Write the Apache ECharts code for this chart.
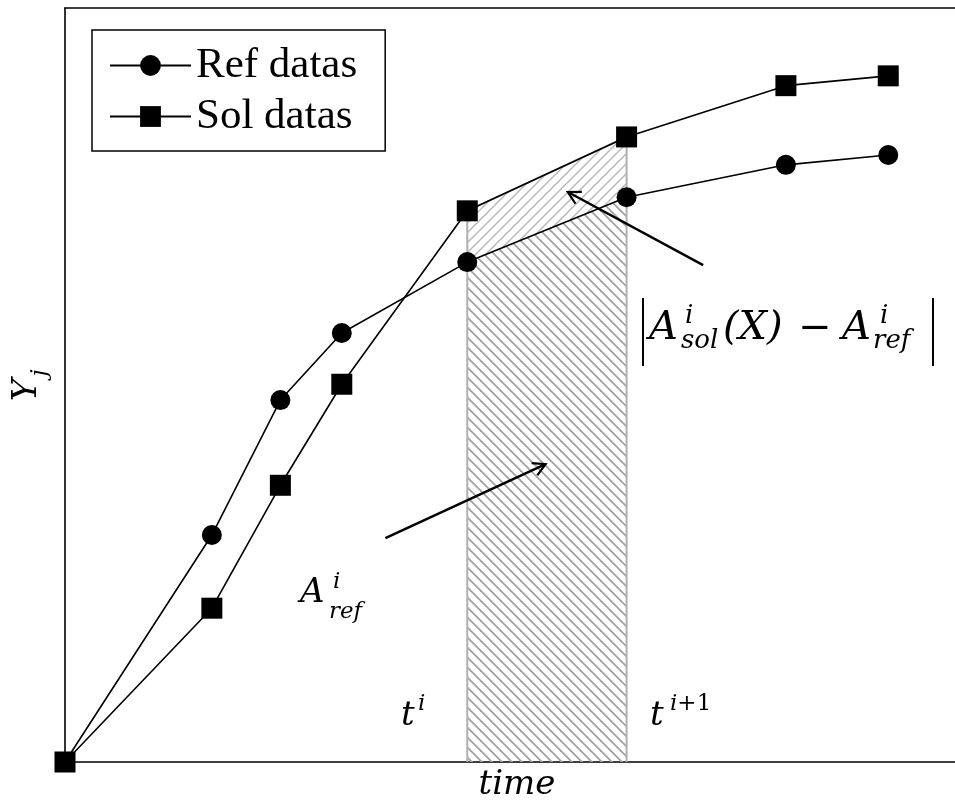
<!DOCTYPE html>
<html>
<head>
<meta charset="utf-8">
<script src="https://cdn.jsdelivr.net/npm/echarts@6/dist/echarts.min.js"></script>
<style>
html,body{margin:0;padding:0;background:#fff;}
#chart{width:955px;height:802px;}
</style>
</head>
<body>
<div id="chart"></div>
<script>
// ---- data ----
const timeValues = [0, 1.65, 2.42, 3.11, 4.52, 6.31, 8.10, 9.25];
const refValues  = [0, 3.01, 4.80, 5.69, 6.63, 7.49, 7.92, 8.05];
const solValues  = [0, 2.04, 3.67, 5.01, 7.31, 8.29, 8.97, 9.10];
const seriesNames = ['Ref datas', 'Sol datas'];
const intervalIndex = 4; // area between t^i and t^{i+1}
const arrowTails = [[7.17, 6.59], [3.60, 2.97]];
const arrowHeads = [[5.65, 7.56], [5.40, 3.95]];

function makeHatch(dir, color, width) {
  const s = 10;
  const c = document.createElement('canvas');
  c.width = s; c.height = s;
  const ctx = c.getContext('2d');
  ctx.strokeStyle = color;
  ctx.lineWidth = width;
  ctx.lineCap = 'square';
  for (const k of [-s, 0, s]) {
    ctx.beginPath();
    if (dir === '\\') { ctx.moveTo(k - 1, -1); ctx.lineTo(k + s + 1, s + 1); }
    else { ctx.moveTo(k - 1, s + 1); ctx.lineTo(k + s + 1, -1); }
    ctx.stroke();
  }
  return c;
}
const hatchDown = makeHatch('\\', '#a2a2a2', 1.8);
const hatchUp = makeHatch('/', '#b8b8b8', 1.4);

const refData = timeValues.map((t, i) => [t, refValues[i]]);
const solData = timeValues.map((t, i) => [t, solValues[i]]);
const i0 = intervalIndex, i1 = intervalIndex + 1;
const hatchData = [[timeValues[i0], timeValues[i1], refValues[i0], refValues[i1], solValues[i0], solValues[i1]]];
const arrowData = arrowTails.map((a, k) => [a[0], a[1], arrowHeads[k][0], arrowHeads[k][1]]);

const chart = echarts.init(document.getElementById('chart'), null, {renderer: 'canvas'});

const mathFont = "'DejaVu Serif'";
function mtext(text, x, y, size, extra) {
  return Object.assign({
    type: 'text', x: x, y: y, z: 100,
    style: {text: text, fontFamily: mathFont, fontStyle: 'italic', fontSize: size,
            fill: '#000', align: 'left', verticalAlign: 'middle'}
  }, extra || {});
}
const frameLine = {show: true, lineStyle: {color: '#000', width: 1.6}};
const hidden = {axisTick: {show: false}, axisLabel: {show: false}, splitLine: {show: false}};

const option = {
  animation: false,
  backgroundColor: '#fff',
  grid: {left: 65, top: 8, right: 0, bottom: 40, show: false},
  xAxis: [
    Object.assign({type: 'value', min: 0, max: 10, position: 'bottom', axisLine: frameLine}, hidden),
    Object.assign({type: 'value', min: 0, max: 10, position: 'top', axisLine: frameLine}, hidden)
  ],
  yAxis: Object.assign({type: 'value', min: 0, max: 10, position: 'left', axisLine: frameLine}, hidden),
  legend: {
    data: seriesNames, orient: 'vertical', left: 92, top: 30,
    padding: [14, 28, 13, 17], itemGap: 8, itemWidth: 81, itemHeight: 26,
    borderColor: '#000', borderWidth: 1.5,
    textStyle: {fontFamily: "'Liberation Serif'", fontSize: 43, color: '#000'}
  },
  series: [
    {
      type: 'custom', z: 1, silent: true,
      renderItem: function (params, api) {
        const ta = api.value(0), tb = api.value(1);
        const ra = api.value(2), rb = api.value(3), sa = api.value(4), sb = api.value(5);
        const p0a = api.coord([ta, 0]), p0b = api.coord([tb, 0]);
        const pra = api.coord([ta, ra]), prb = api.coord([tb, rb]);
        const psa = api.coord([ta, sa]), psb = api.coord([tb, sb]);
        return {
          type: 'group',
          children: [
            {type: 'polygon', shape: {points: [p0a, pra, prb, p0b]},
             style: {fill: {type: 'pattern', image: hatchDown, repeat: 'repeat'}, stroke: null}},
            {type: 'polygon', shape: {points: [pra, psa, psb, prb]},
             style: {fill: {type: 'pattern', image: hatchUp, repeat: 'repeat'}, stroke: null}},
            {type: 'polyline', shape: {points: [p0a, psa, psb, p0b]},
             style: {stroke: '#b0b0b0', lineWidth: 2, fill: null}}
          ]
        };
      },
      data: hatchData
    },
    {
      name: seriesNames[0], type: 'line', data: refData, z: 3,
      symbol: 'circle', symbolSize: 20,
      lineStyle: {color: '#000', width: 1.6}, itemStyle: {color: '#000'}
    },
    {
      name: seriesNames[1], type: 'line', data: solData, z: 4,
      symbol: 'rect', symbolSize: 21,
      lineStyle: {color: '#000', width: 1.6}, itemStyle: {color: '#000'}
    },
    {
      type: 'custom', z: 5, silent: true,
      renderItem: function (params, api) {
        const a = api.coord([api.value(0), api.value(1)]);
        const b = api.coord([api.value(2), api.value(3)]);
        const ang = Math.atan2(b[1] - a[1], b[0] - a[0]);
        const L = 14, w = 0.5;
        const h1 = [b[0] - L * Math.cos(ang - w), b[1] - L * Math.sin(ang - w)];
        const h2 = [b[0] - L * Math.cos(ang + w), b[1] - L * Math.sin(ang + w)];
        return {
          type: 'group',
          children: [
            {type: 'line', shape: {x1: a[0], y1: a[1], x2: b[0], y2: b[1]},
             style: {stroke: '#000', lineWidth: 2.5}},
            {type: 'polyline', shape: {points: [h1, b, h2]},
             style: {stroke: '#000', lineWidth: 2.2, fill: null}}
          ]
        };
      },
      data: arrowData
    }
  ],
  graphic: [
    // |A^i_sol(X) - A^i_ref|
    {type: 'line', shape: {x1: 643, y1: 298, x2: 643, y2: 366}, style: {stroke: '#000', lineWidth: 2}},
    {type: 'line', shape: {x1: 933, y1: 298, x2: 933, y2: 366}, style: {stroke: '#000', lineWidth: 2}},
    mtext('A', 649, 329, 40),
    mtext('i', 685, 316, 26),
    mtext('sol', 681, 341, 26),
    mtext('(X)', 723, 329, 40),
    {type: 'text', x: 815, y: 330, style: {text: '\u2212', fontFamily: mathFont, fontSize: 40, fill: '#000', align: 'center', verticalAlign: 'middle'}},
    mtext('A', 842, 329, 40),
    mtext('i', 880, 316, 26),
    mtext('ref', 873, 341, 26),
    // A^i_ref
    mtext('A', 300, 593, 34),
    mtext('i', 333, 582, 23),
    mtext('ref', 329, 612, 23),
    // t^i and t^{i+1}
    mtext('t', 401, 716, 34),
    mtext('i', 418, 704, 23),
    mtext('t', 650, 716, 34),
    {type: 'text', x: 670, y: 704, z: 100,
     style: {text: '{it|i}{up|+1}', fill: '#000', align: 'left', verticalAlign: 'middle',
             rich: {it: {fontFamily: mathFont, fontStyle: 'italic', fontSize: 23},
                    up: {fontFamily: mathFont, fontSize: 23}}}},
    // axis names
    {type: 'text', x: 517, y: 785, z: 100,
     style: {text: 'time', fontFamily: mathFont, fontStyle: 'italic', fontSize: 34, fill: '#000', align: 'center', verticalAlign: 'middle'}},
    {type: 'text', x: 27, y: 390, rotation: Math.PI / 2, z: 100,
     style: {text: 'Y', fontFamily: mathFont, fontStyle: 'italic', fontSize: 34, fill: '#000', align: 'center', verticalAlign: 'middle'}},
    {type: 'text', x: 40, y: 373, rotation: Math.PI / 2, z: 100,
     style: {text: 'j', fontFamily: mathFont, fontStyle: 'italic', fontSize: 23, fill: '#000', align: 'center', verticalAlign: 'middle'}}
  ]
};
chart.setOption(option);
</script>
</body>
</html>
